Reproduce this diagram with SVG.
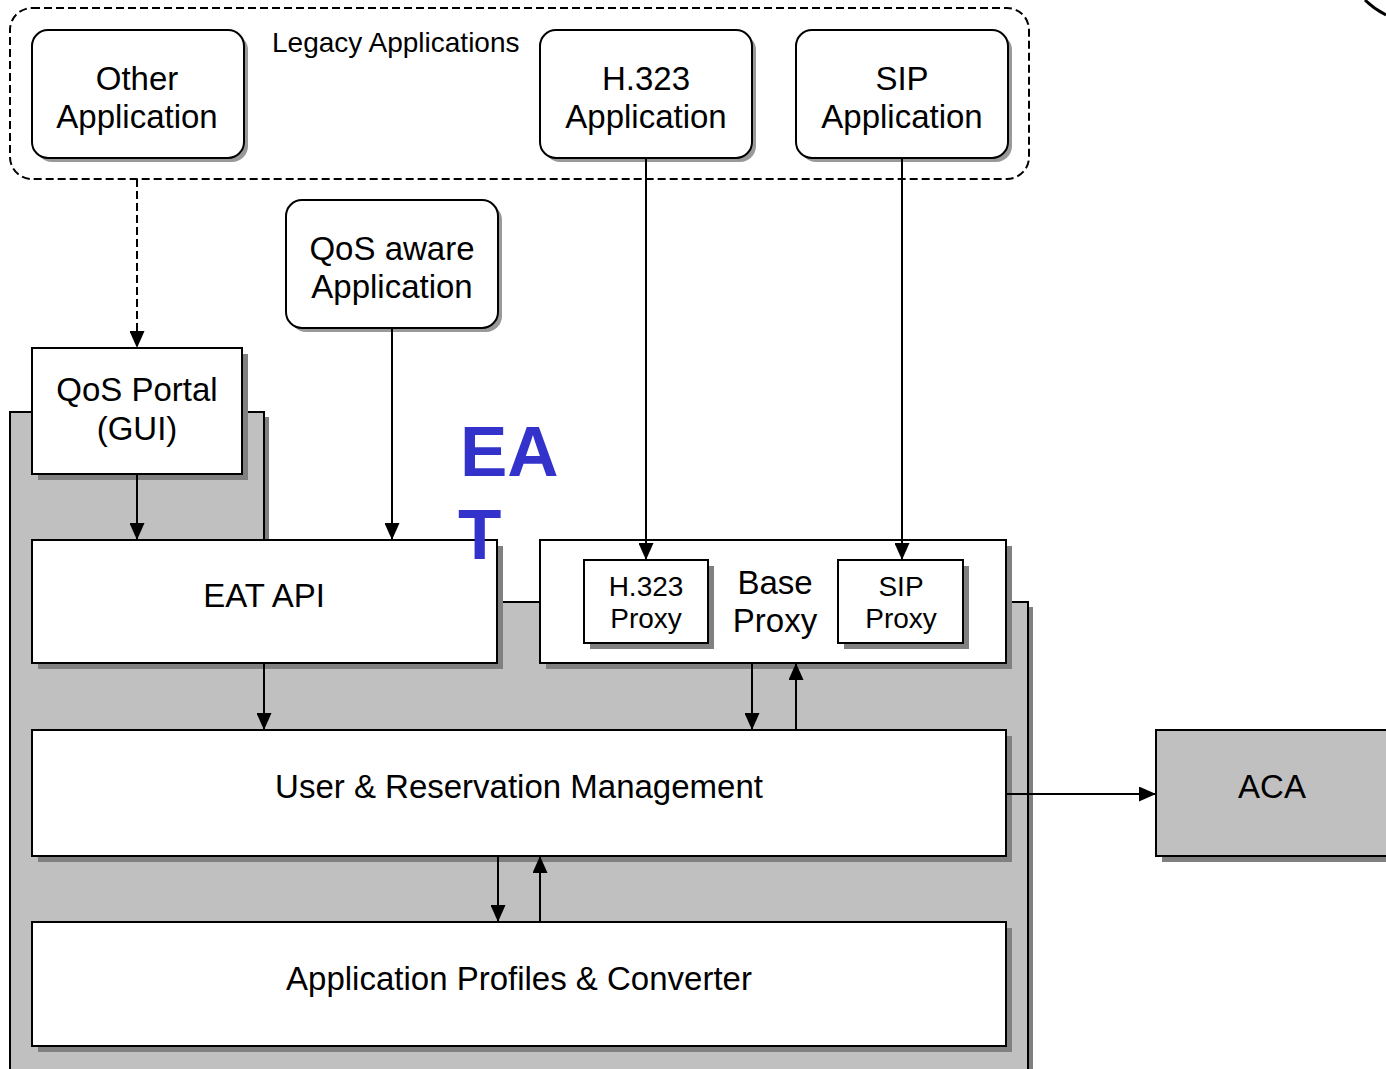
<svg xmlns="http://www.w3.org/2000/svg" width="1386" height="1069" viewBox="0 0 1386 1069">
  <style>
    .box { fill: #ffffff; stroke: #000000; stroke-width: 2; }
    .shadow { fill: #808080; stroke: none; }
    .soft { fill: #999999; stroke: none; }
    .gray { fill: #c0c0c0; stroke: #000000; stroke-width: 2; }
    .lbl { font-family: "Liberation Sans", Arial, sans-serif; font-size: 33px; fill: #000000; text-anchor: middle; }
    .small { font-size: 28px; }
    .legacy { font-family: "Liberation Sans", Arial, sans-serif; font-size: 28px; fill: #000000; }
    .eat { font-family: "Liberation Sans", Arial, sans-serif; font-size: 71px; font-weight: bold; fill: #3333cc; }
    .wire { fill: none; stroke: #000000; stroke-width: 2; }
    .dash { stroke-dasharray: 8 4; }
  </style>
  <defs>
    <marker id="arrow" markerWidth="17" markerHeight="15" refX="17" refY="7.5" orient="auto" markerUnits="userSpaceOnUse">
      <path d="M0,0 L17,7.5 L0,15 z" fill="#000000"/>
    </marker>
  </defs>

  <rect width="1386" height="1069" fill="#ffffff"/>

  <!-- EAT background block -->
  <g id="eat-block">
    <polygon class="shadow" points="15,417 269,417 269,607 1033,607 1033,1075 15,1075"/>
    <polygon class="gray" points="10,412 264,412 264,602 1028,602 1028,1080 10,1080"/>
  </g>

  <!-- Legacy applications frame -->
  <g id="legacy">
    <rect x="10" y="8" width="1019" height="171" rx="22" fill="none" stroke="#000000" stroke-width="2" class="dash"/>
    <text class="legacy" x="272" y="52">Legacy Applications</text>
  </g>

  <g id="other-app">
    <rect class="soft" x="36" y="34" width="212" height="128" rx="16"/>
    <rect class="box" x="32" y="30" width="212" height="128" rx="16"/>
    <text class="lbl" x="137" y="90">Other</text>
    <text class="lbl" x="137" y="128">Application</text>
  </g>

  <g id="h323-app">
    <rect class="soft" x="544" y="34" width="212" height="128" rx="16"/>
    <rect class="box" x="540" y="30" width="212" height="128" rx="16"/>
    <text class="lbl" x="646" y="90">H.323</text>
    <text class="lbl" x="646" y="128">Application</text>
  </g>

  <g id="sip-app">
    <rect class="soft" x="800" y="34" width="212" height="128" rx="16"/>
    <rect class="box" x="796" y="30" width="212" height="128" rx="16"/>
    <text class="lbl" x="902" y="90">SIP</text>
    <text class="lbl" x="902" y="128">Application</text>
  </g>

  <g id="qos-aware-app">
    <rect class="soft" x="290" y="204" width="212" height="128" rx="16"/>
    <rect class="box" x="286" y="200" width="212" height="128" rx="16"/>
    <text class="lbl" x="392" y="260">QoS aware</text>
    <text class="lbl" x="392" y="298">Application</text>
  </g>

  <g id="qos-portal">
    <rect class="shadow" x="38" y="354" width="210" height="126"/>
    <rect class="box" x="32" y="348" width="210" height="126"/>
    <text class="lbl" x="137" y="401">QoS Portal</text>
    <text class="lbl" x="137" y="440">(GUI)</text>
  </g>

  <g id="eat-api">
    <rect class="shadow" x="38" y="546" width="465" height="123"/>
    <rect class="box" x="32" y="540" width="465" height="123"/>
    <text class="lbl" x="264" y="607">EAT API</text>
  </g>

  <g id="base-proxy">
    <rect class="shadow" x="546" y="546" width="466" height="123"/>
    <rect class="box" x="540" y="540" width="466" height="123"/>
    <text class="lbl" x="775" y="594">Base</text>
    <text class="lbl" x="775" y="632">Proxy</text>
  </g>

  <g id="h323-proxy">
    <rect class="shadow" x="590" y="566" width="124" height="83"/>
    <rect class="box" x="584" y="560" width="124" height="83"/>
    <text class="lbl small" x="646" y="596">H.323</text>
    <text class="lbl small" x="646" y="628">Proxy</text>
  </g>

  <g id="sip-proxy">
    <rect class="shadow" x="844" y="566" width="125" height="83"/>
    <rect class="box" x="838" y="560" width="125" height="83"/>
    <text class="lbl small" x="901" y="596">SIP</text>
    <text class="lbl small" x="901" y="628">Proxy</text>
  </g>

  <g id="user-reservation">
    <rect class="shadow" x="38" y="736" width="974" height="126"/>
    <rect class="box" x="32" y="730" width="974" height="126"/>
    <text class="lbl" x="519" y="798">User &amp; Reservation Management</text>
  </g>

  <g id="app-profiles">
    <rect class="shadow" x="38" y="928" width="974" height="124"/>
    <rect class="box" x="32" y="922" width="974" height="124"/>
    <text class="lbl" x="519" y="990">Application Profiles &amp; Converter</text>
  </g>

  <g id="aca">
    <rect class="shadow" x="1162" y="736" width="240" height="126"/>
    <rect class="gray" x="1156" y="730" width="240" height="126"/>
    <text class="lbl" x="1272" y="798">ACA</text>
  </g>

  <!-- block title, drawn on top so it overlaps the API box -->
  <g id="eat-title">
    <text class="eat" x="460" y="476">EA</text>
    <text class="eat" x="458" y="559">T</text>
  </g>

  <!-- partial outline at the upper right edge -->
  <g id="edge-arc">
    <path d="M1365,0 Q1374,9 1386,15" fill="none" stroke="#000000" stroke-width="3"/>
  </g>

  <g id="connectors">
    <line class="wire dash" x1="137" y1="179" x2="137" y2="348" marker-end="url(#arrow)"/>
    <line class="wire" x1="392" y1="328" x2="392" y2="540" marker-end="url(#arrow)"/>
    <line class="wire" x1="646" y1="158" x2="646" y2="560" marker-end="url(#arrow)"/>
    <line class="wire" x1="902" y1="158" x2="902" y2="560" marker-end="url(#arrow)"/>
    <line class="wire" x1="137" y1="474" x2="137" y2="540" marker-end="url(#arrow)"/>
    <line class="wire" x1="264" y1="663" x2="264" y2="730" marker-end="url(#arrow)"/>
    <line class="wire" x1="752" y1="663" x2="752" y2="730" marker-end="url(#arrow)"/>
    <line class="wire" x1="796" y1="730" x2="796" y2="663" marker-end="url(#arrow)"/>
    <line class="wire" x1="498" y1="856" x2="498" y2="922" marker-end="url(#arrow)"/>
    <line class="wire" x1="540" y1="922" x2="540" y2="856" marker-end="url(#arrow)"/>
    <line class="wire" x1="1006" y1="794" x2="1156" y2="794" marker-end="url(#arrow)"/>
  </g>
</svg>
